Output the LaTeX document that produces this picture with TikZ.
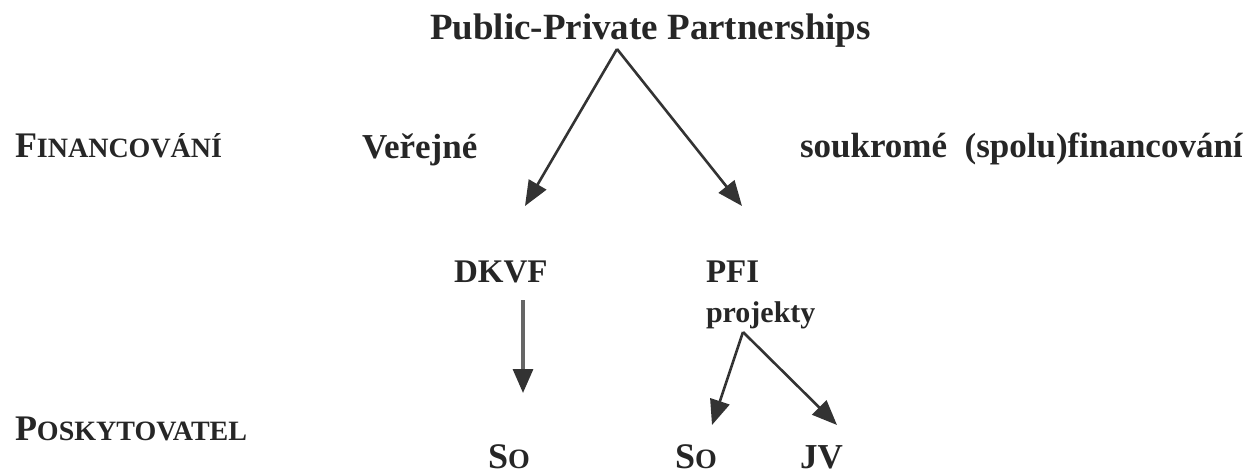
\documentclass[tikz,border=0pt]{standalone}
\usepackage{fontspec}
\setmainfont{Liberation Serif}
\usetikzlibrary{arrows.meta}
\definecolor{ink}{HTML}{262626}
\definecolor{arr}{HTML}{333333}
\newcommand{\fsz}[1]{\fontsize{#1}{#1}\selectfont}
\newcommand{\scA}[2]{{\fsz{36}#1}{\fsz{28}#2}}
\begin{document}
\begin{tikzpicture}[x=1pt,y=-1pt,
  lbl/.style={anchor=base west,inner sep=0pt,outer sep=0pt,text=ink,font=\bfseries},
  conn/.style={draw=arr,line width=2.6pt,-{Triangle[length=25pt,width=20pt]}},
  vconn/.style={draw=gray!80!black,line width=3.2pt,-{Triangle[length=24pt,width=20pt,color=arr]}}]
\useasboundingbox (0,0) rectangle (1250,474);
% texts
\node[lbl,font=\bfseries\fsz{37}] (ppp) at (430,39) {Public-Private Partnerships};
\node[lbl] (fin) at (15,157) {\scA{F}{INANCOVÁNÍ}};
\node[lbl,font=\bfseries\fsz{35}] (ver) at (362,158) {Veřejné};
\node[lbl,font=\bfseries\fsz{35}] (souk) at (800,157) {soukromé\ \ (spolu)financování};
\node[lbl,font=\bfseries\fsz{33}] (dkvf) at (454,282) {DKVF};
\node[lbl,font=\bfseries\fsz{33}] (pfi) at (706,282) {PFI};
\node[lbl,font=\bfseries\fsz{30}] (proj) at (706,322) {projekty};
\node[lbl] (pos) at (15,440) {\scA{P}{OSKYTOVATEL}};
\node[lbl] (so1) at (488,468) {\scA{S}{O}};
\node[lbl] (so2) at (675,468) {\scA{S}{O}};
\node[lbl,font=\bfseries\fsz{35}] (jv) at (800,468) {JV};
% connector points
\coordinate (apex) at (617,49);
\coordinate (tipL) at (525,206);
\coordinate (tipR) at (742,206);
\coordinate (dtop) at (523,300);
\coordinate (dtip) at (523,393);
\coordinate (papex) at (743,332);
\coordinate (ptipL) at (712,425);
\coordinate (ptipR) at (837,425);
% connectors
\draw[conn] (apex) -- (tipL);
\draw[conn] (apex) -- (tipR);
\draw[vconn] (dtop) -- (dtip);
\draw[conn] (papex) -- (ptipL);
\draw[conn] (papex) -- (ptipR);
\end{tikzpicture}
\end{document}
